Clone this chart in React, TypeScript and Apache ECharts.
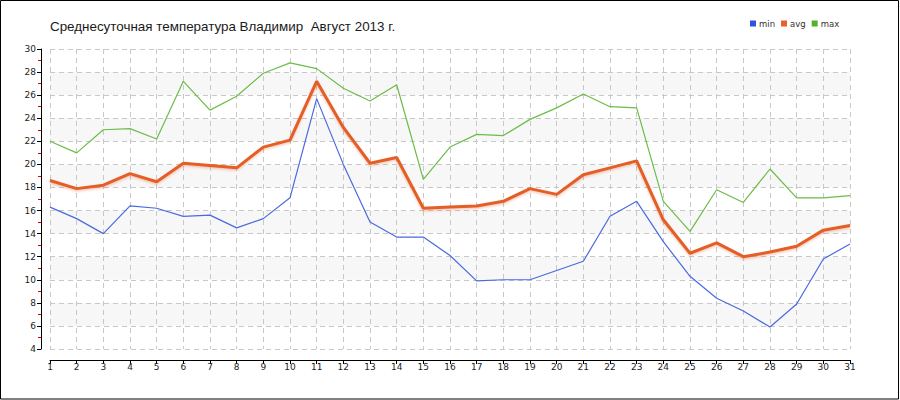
import React, { useEffect, useRef } from "react";
import * as echarts from "echarts";

const days: string[] = Array.from({ length: 31 }, (_, i) => String(i + 1));
const minTemps = [16.3, 15.3, 14.0, 16.4, 16.2, 15.5, 15.6, 14.5, 15.3, 17.1, 25.7, 20.0, 15.0, 13.7, 13.7, 12.1, 9.9, 10.0, 10.0, 10.8, 11.6, 15.5, 16.8, 13.3, 10.3, 8.4, 7.3, 5.9, 7.9, 11.8, 13.1];
const avgTemps = [18.6, 17.9, 18.2, 19.2, 18.5, 20.1, 19.9, 19.7, 21.5, 22.1, 27.2, 23.2, 20.1, 20.6, 16.2, 16.3, 16.4, 16.8, 17.9, 17.4, 19.1, 19.7, 20.3, 15.2, 12.3, 13.2, 12.0, 12.4, 12.9, 14.3, 14.7];
const maxTemps = [22.0, 21.0, 23.0, 23.1, 22.2, 27.2, 24.7, 25.9, 27.9, 28.8, 28.3, 26.6, 25.5, 26.9, 18.7, 21.5, 22.6, 22.5, 23.9, 24.9, 26.1, 25.0, 24.9, 16.8, 14.2, 17.8, 16.7, 19.6, 17.1, 17.1, 17.3];
const titleText = "Среднесуточная температура Владимир  Август 2013 г.";

export default function App() {
  const ref = useRef<HTMLDivElement>(null);
  useEffect(() => {
    document.body.style.margin = "0";
    const chart = echarts.init(ref.current!, null, { renderer: "svg" });
    chart.setOption({
      animation: false,
      backgroundColor: "#fff",
      title: {
        text: titleText,
        left: 50,
        top: 20,
        padding: 0,
        textStyle: { fontFamily: "Liberation Sans", fontSize: 13.4, fontWeight: "normal", color: "#1a1a1a" },
      },
      legend: {
        left: 750,
        top: 19,
        padding: 0,
        icon: "rect",
        itemWidth: 6,
        itemHeight: 6,
        itemGap: 6,
        textStyle: { fontFamily: "DejaVu Sans", fontSize: 8.5, color: "#333", padding: [0, 0, 0, -2] },
        data: ["min", "avg", "max"],
      },
      grid: { left: 50, right: 50, top: 49, bottom: 51, containLabel: false },
      xAxis: {
        type: "category",
        data: days,
        boundaryGap: false,
        offset: 11,
        axisLine: { lineStyle: { color: "#000", width: 1 } },
        axisTick: { show: true, length: 4, interval: 0, lineStyle: { color: "#000" } },
        axisLabel: { interval: 0, margin: 2, fontFamily: "DejaVu Sans", fontSize: 9, color: "#222" },
        splitLine: { show: true, interval: 0, lineStyle: { color: "#c8c8c8", type: [5, 4] } },
      },
      yAxis: {
        type: "value",
        min: 4,
        max: 30,
        interval: 2,
        offset: 9,
        axisLine: { show: true, lineStyle: { color: "#000", width: 1 } },
        axisTick: { show: true, length: 4, lineStyle: { color: "#000" } },
        minorTick: { show: true, splitNumber: 2, length: 3, lineStyle: { color: "#e00000" } },
        axisLabel: { margin: 5, fontFamily: "DejaVu Sans", fontSize: 9, color: "#222" },
        splitLine: { show: true, lineStyle: { color: "#c8c8c8", type: [5, 4] } },
        splitArea: { show: true, areaStyle: { color: ["rgba(255,255,255,0)", "#f7f7f7"] } },
      },
      series: [
        {
          name: "min",
          type: "line",
          data: minTemps,
          showSymbol: false,
          itemStyle: { color: "#2f55e0" },
          lineStyle: { color: "#4a6ae0", width: 1.2 },
          z: 3,
        },
        {
          name: "avg",
          type: "line",
          data: avgTemps,
          showSymbol: false,
          itemStyle: { color: "#e8602a" },
          lineStyle: { color: "#e45e28", width: 3, shadowColor: "rgba(230,100,50,0.35)", shadowBlur: 2, shadowOffsetY: 1.5 },
          z: 4,
        },
        {
          name: "max",
          type: "line",
          data: maxTemps,
          showSymbol: false,
          itemStyle: { color: "#55b030" },
          lineStyle: { color: "#6cbc48", width: 1.2 },
          z: 3,
        },
      ],
      graphic: [
        {
          type: "rect",
          shape: { x: 0.5, y: 0.5, width: 898, height: 398.5 },
          style: { fill: "none", stroke: "#000", lineWidth: 1 },
          silent: true,
          z: 100,
        },
      ],
    });
    return () => chart.dispose();
  }, []);
  return <div ref={ref} style={{ width: 900, height: 400 }} />;
}
